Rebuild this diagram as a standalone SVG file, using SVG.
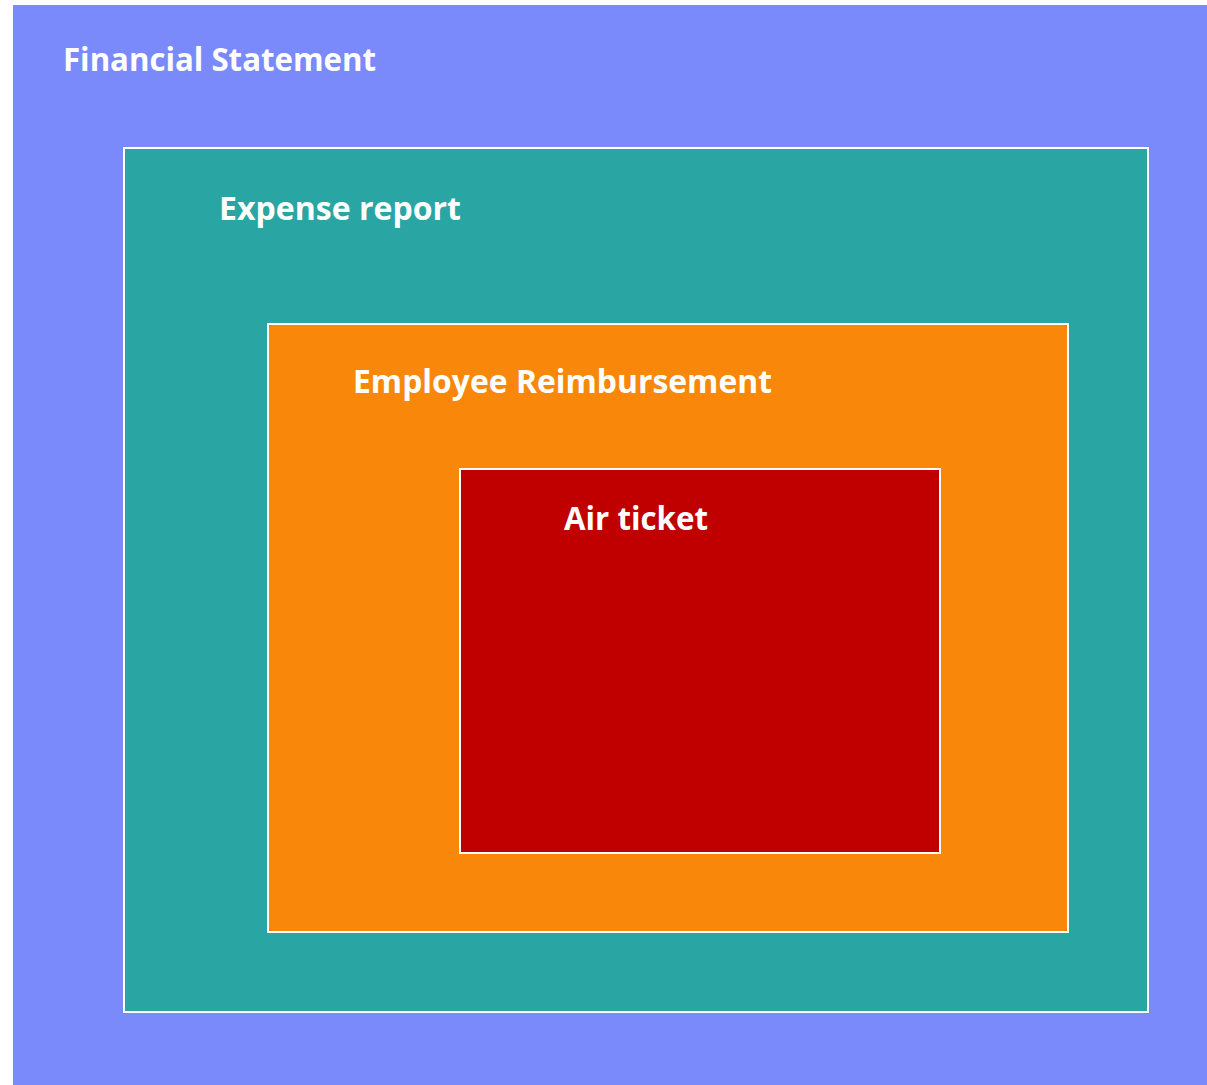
<svg xmlns="http://www.w3.org/2000/svg" width="1207" height="1085" viewBox="0 0 1207 1085">
<style>
.lbl{font-family:"Open Sans","Noto Sans","DejaVu Sans",sans-serif;font-weight:700;font-size:32px;fill:#ffffff}
.box{stroke:#ffffff;stroke-width:2}
</style>
<rect width="1207" height="1085" fill="#ffffff"/>
<g id="financial-statement">
<rect x="13" y="5" width="1194" height="1080" fill="#7A8AFB"/>
<text class="lbl" x="63" y="71" textLength="313" lengthAdjust="spacingAndGlyphs">Financial Statement</text>
</g>
<g id="expense-report">
<rect class="box" x="124" y="148" width="1024" height="864" fill="#29A5A4"/>
<text class="lbl" x="219" y="220" textLength="242" lengthAdjust="spacingAndGlyphs">Expense report</text>
</g>
<g id="employee-reimbursement">
<rect class="box" x="268" y="324" width="800" height="608" fill="#F8870A"/>
<text class="lbl" x="353" y="393" textLength="419" lengthAdjust="spacingAndGlyphs">Employee Reimbursement</text>
</g>
<g id="air-ticket">
<rect class="box" x="460" y="469" width="480" height="384" fill="#C00000"/>
<text class="lbl" x="564" y="530" textLength="144" lengthAdjust="spacingAndGlyphs">Air ticket</text>
</g>
<g id="connectors"/>
</svg>
